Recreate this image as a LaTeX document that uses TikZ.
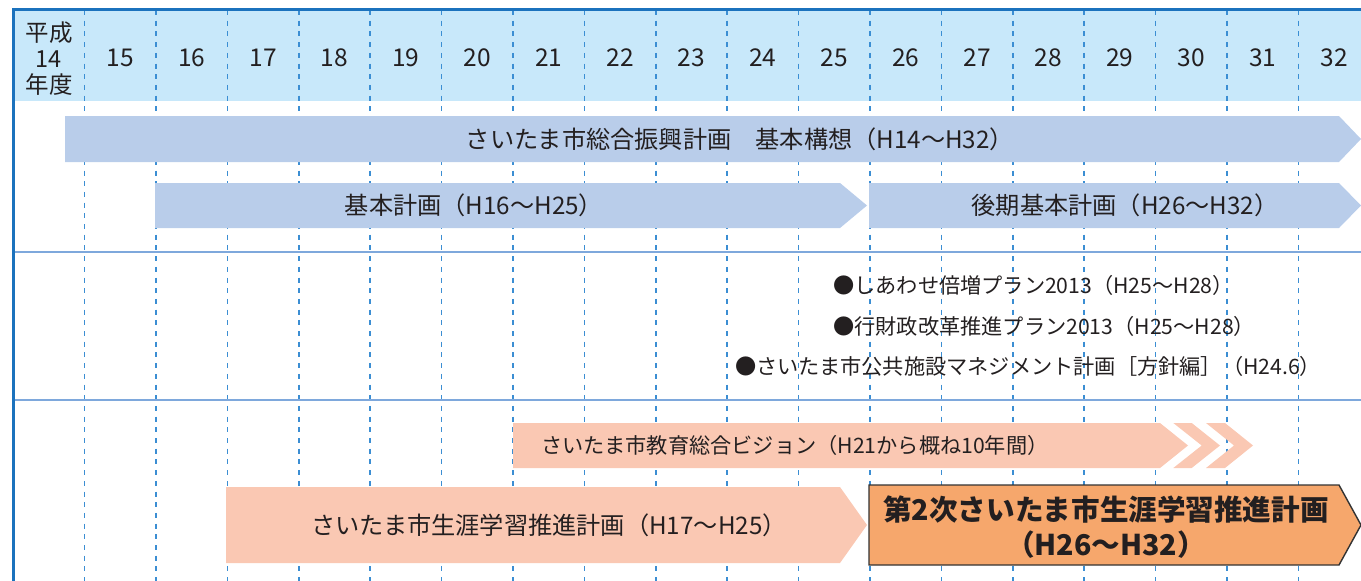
\documentclass[tikz,border=0pt]{standalone}
\usepackage{fontspec}
\setmainfont{Noto Sans CJK JP}
\usepackage{tikz}
\definecolor{gridblue}{HTML}{3B8ED3}
\definecolor{frameblue}{HTML}{1B72BD}
\definecolor{headfill}{HTML}{C8E8FA}
\definecolor{rowline}{HTML}{7EA8DC}
\definecolor{planblue}{HTML}{B9CDEA}
\definecolor{plansalmon}{HTML}{FAC8B3}
\definecolor{planorange}{HTML}{F6A76C}
\definecolor{ink}{HTML}{231F20}

\begin{document}
\begin{tikzpicture}[x=1pt, y=-1pt, every node/.style={text=ink, inner sep=0pt}]
	\tikzstyle{grid} = [draw=gridblue, line width=1.6pt, dash pattern=on 5pt off 5.7pt]
	\tikzstyle{row} = [draw=rowline, line width=1.8pt]
	\tikzstyle{bluebar} = [fill=planblue]
	\tikzstyle{pinkbar} = [fill=plansalmon]
	\tikzstyle{mainbar} = [fill=planorange, draw=black!80, line width=1.4pt, line join=miter]
	\tikzstyle{head} = [font=\fontsize{23.5}{26}\selectfont, align=center]
	\tikzstyle{year} = [font=\fontsize{24.5}{28}\selectfont]
	\tikzstyle{label} = [font=\fontsize{24.2}{28}\selectfont]
	\tikzstyle{small} = [font=\fontsize{21.2}{25}\selectfont]
	\tikzstyle{bold} = [font=\fontsize{28.6}{35}\selectfont\bfseries, align=center]
	\useasboundingbox (0,0) rectangle (1361,581);
	% header band
	\fill[headfill] (14,10) rectangle (1361,101);
	% year grid
	\foreach \k in {0,...,17}
		\draw[grid] (84.5+71.4*\k,10) -- (84.5+71.4*\k,581);
	\draw[row] (13,252) -- (1361,252);
	\draw[row] (13,400) -- (1361,400);
	\draw[frameblue, line width=2.3pt] (13.5,581) -- (13.5,9.5) -- (1361,9.5);
	% years
	\node[head] (era) at (49,59) {平成\\14\\年度};
	\foreach \y [count=\k from 0] in {15,...,32}
		\node[year] (y\y) at (120.2+71.4*\k,58) {\y};
	% plans, row 1
	\fill[bluebar] (65,116) -- (1339,116) -- (1361,139) -- (1339,162) -- (65,162) -- cycle;
	\fill[bluebar] (155,183) -- (840,183) -- (867,205.5) -- (840,228) -- (155,228) -- cycle;
	\fill[bluebar] (869,183) -- (1339,183) -- (1361,205.5) -- (1339,228) -- (869,228) -- cycle;
	\node[label] (kousou) at (740,139) {さいたま市総合振興計画　基本構想（H14～H32）};
	\node[label] (kihon) at (474,205.5) {基本計画（H16～H25）};
	\node[label] (kouki) at (1125,205.5) {後期基本計画（H26～H32）};
	% plans, row 2
	\node[small, anchor=west] (shiawase) at (833,285) {●しあわせ倍増プラン2013（H25～H28）};
	\node[small, anchor=west] (gyozai) at (833,326) {●行財政改革推進プラン2013（H25～H28）};
	\node[small, anchor=west] (koukyou) at (735,366) {●さいたま市公共施設マネジメント計画［方針編］（H24.6）};
	% plans, row 3
	\fill[pinkbar] (513,423) -- (1160,423) -- (1188,445.5) -- (1160,468) -- (513,468) -- cycle;
	\fill[pinkbar] (1173.3,423) -- (1191.7,423) -- (1220,445.5) -- (1191.7,468) -- (1173.3,468) -- (1201.7,445.5) -- cycle;
	\fill[pinkbar] (1206,423) -- (1225,423) -- (1253,445.5) -- (1225,468) -- (1206,468) -- (1234,445.5) -- cycle;
	\fill[pinkbar] (226,487) -- (840,487) -- (867,525) -- (840,563) -- (226,563) -- cycle;
	\filldraw[mainbar] (869,485) -- (1339,485) -- (1361,525) -- (1339,565) -- (869,565) -- cycle;
	\node[small] (vision) at (795,445.5) {さいたま市教育総合ビジョン（H21から概ね10年間）};
	\node[label] (shougai) at (549,525) {さいたま市生涯学習推進計画（H17～H25）};
	\node[bold] (daini) at (1106,527) {第2次さいたま市生涯学習推進計画\\（H26～H32）};
\end{tikzpicture}
\end{document}
